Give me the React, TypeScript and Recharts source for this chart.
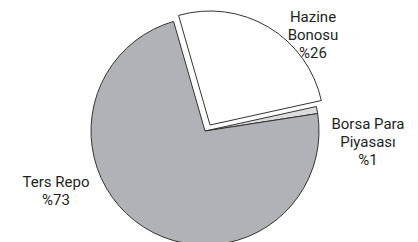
import React from 'react';
import { PieChart, Pie, Cell } from 'recharts';

// dağılım (%)
const categories = ['Hazine Bonosu', 'Borsa Para Piyasası', 'Ters Repo'];
const values = [26, 1, 73];
const labelLines = [
  ['Hazine', 'Bonosu', '%26'],
  ['Borsa Para', 'Piyasası', '%1'],
  ['Ters Repo', '%73'],
];

const FILLS = ['#ffffff', '#dcdcdd', '#b1b2b5'];
const EXPLODED = 0; // Hazine dilimi dışarı çekik

const data = categories.map((name, i) => ({ name, value: values[i] }));

const CX = 200;
const CY = 126;
const R = 114;
const START = 106;

// etiket yerleri: merkeze göre (dx, ilk satır dy)
const LABEL_POS = [
  { dx: 113, dy: -104 },
  { dx: 168, dy: 3 },
  { dx: -144, dy: 61 },
];
const LINE_H = 18;

const renderLabel = (props: any) => {
  const { index } = props;
  const pos = LABEL_POS[index];
  return (
    <g>
      {labelLines[index].map((line, i) => (
        <text
          key={i}
          x={CX + pos.dx}
          y={CY + pos.dy + i * LINE_H}
          textAnchor="middle"
          fill="#231f20"
          fontSize={15}
          fontFamily="Roboto, sans-serif"
        >
          {line}
        </text>
      ))}
    </g>
  );
};

export default function App() {
  return (
    <div style={{ position: 'absolute', left: 0, top: 0, width: 418, height: 242, background: '#fff' }}>
      <PieChart width={418} height={242}>
        <Pie
          data={data}
          dataKey="value"
          cx={CX}
          cy={CY}
          outerRadius={R}
          startAngle={START}
          endAngle={START - 360}
          stroke="#333"
          strokeWidth={1}
          label={renderLabel}
          labelLine={false}
          isAnimationActive={false}
        >
          {data.map((_d, i) => (
            <Cell
              key={`base-${i}`}
              fill={i === EXPLODED ? '#ffffff' : FILLS[i]}
              stroke={i === EXPLODED ? 'none' : '#333'}
            />
          ))}
        </Pie>
        <Pie
          data={data}
          dataKey="value"
          cx={CX + 5}
          cy={CY - 6}
          outerRadius={R}
          startAngle={START}
          endAngle={START - 360}
          strokeWidth={1}
          isAnimationActive={false}
        >
          {data.map((_d, i) => (
            <Cell
              key={`exp-${i}`}
              fill={i === EXPLODED ? FILLS[i] : 'none'}
              stroke={i === EXPLODED ? '#333' : 'none'}
            />
          ))}
        </Pie>
      </PieChart>
    </div>
  );
}
